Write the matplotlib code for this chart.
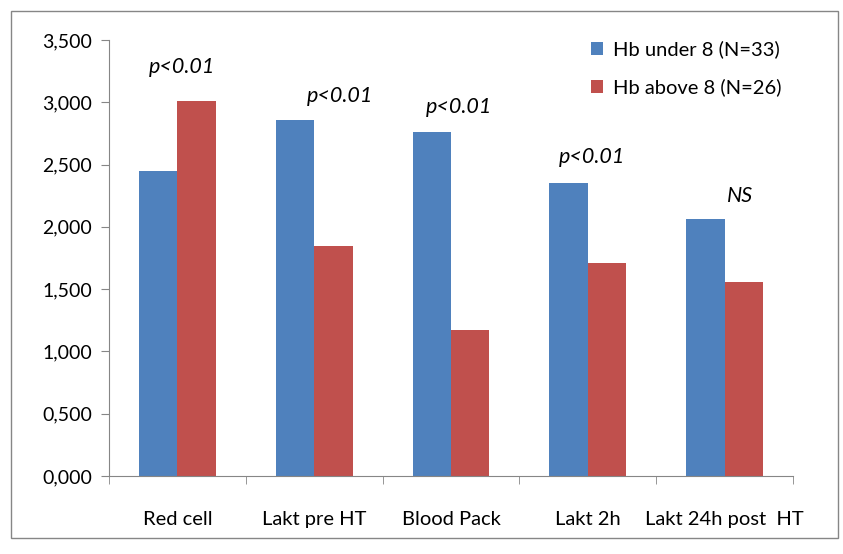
import matplotlib
matplotlib.use("Agg")
import matplotlib.pyplot as plt
import numpy as np
from matplotlib.patches import Rectangle

plt.rcParams['font.family'] = ['Lato', 'DejaVu Sans']

categories = ["Red cell", "Lakt pre HT", "Blood Pack", "Lakt 2h", "Lakt 24h post  HT"]
hb_under = [2.45, 2.86, 2.76, 2.35, 2.06]
hb_above = [3.01, 1.85, 1.17, 1.71, 1.56]
series_labels = ["Hb under 8 (N=33)", "Hb above 8 (N=26)"]
annotations = ["p<0.01", "p<0.01", "p<0.01", "p<0.01", "NS"]
ann_heights = [3.28, 3.05, 2.96, 2.56, 2.25]
ann_offsets = [0.03, 0.19, 0.06, 0.03, 0.11]

blue = "#4F81BD"
red = "#C0504D"
grey = "#868686"

fig = plt.figure(figsize=(8.43, 5.54), dpi=100)
# outer chart border
fig.patches.append(Rectangle((11 / 843, 1 - 538 / 554), 827 / 843, 527 / 554,
                             transform=fig.transFigure, fill=False,
                             edgecolor=grey, linewidth=1.0))

ax = fig.add_axes([109 / 843, 1 - 476 / 554, 684 / 843, 436 / 554])
x = np.arange(len(categories))
w = 0.28
ax.bar(x - w / 2, hb_under, w, color=blue, label=series_labels[0])
ax.bar(x + w / 2, hb_above, w, color=red, label=series_labels[1])

for i, txt in enumerate(annotations):
    ax.text(x[i] + ann_offsets[i], ann_heights[i], txt, style="italic",
            ha="center", va="center", fontsize=15.5)

ax.set_xlim(-0.5, len(categories) - 0.5)
ax.set_ylim(0, 3.5)
ax.set_yticks(np.arange(0, 3.51, 0.5))
ax.set_yticklabels([f"{v:.3f}".replace(".", ",") for v in np.arange(0, 3.51, 0.5)])
ax.set_xticks(x)
ax.set_xticklabels(categories)
ax.set_xticks(np.arange(-0.5, len(categories), 1.0), minor=True)
ax.tick_params(axis="x", which="major", length=0, pad=25, labelsize=14.5)
ax.tick_params(axis="x", which="minor", length=6, color=grey, direction="out")
ax.tick_params(axis="y", length=6, color=grey, labelsize=14, pad=6)

for s in ["top", "right"]:
    ax.spines[s].set_visible(False)
for s in ["left", "bottom"]:
    ax.spines[s].set_color(grey)

ax.legend(loc="upper right", bbox_to_anchor=(1.01, 1.04), frameon=False,
          fontsize=14.5, handlelength=0.6, handleheight=0.6, labelspacing=1.0,
          handletextpad=0.5)

fig.savefig("out.png", dpi=100)
